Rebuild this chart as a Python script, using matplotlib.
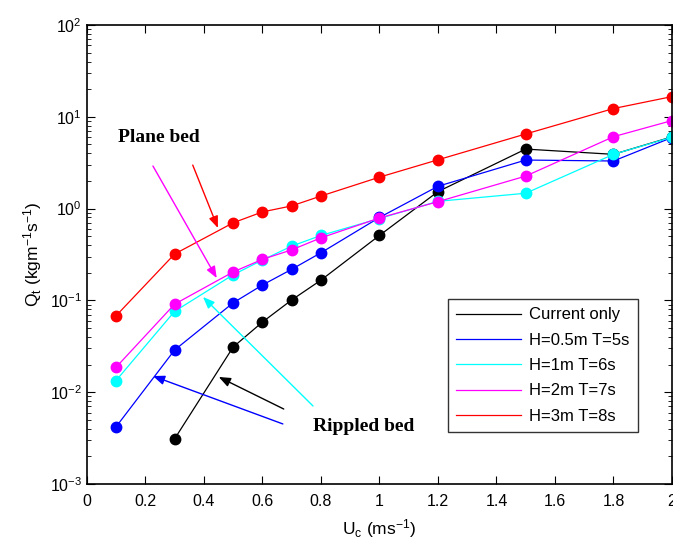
import numpy as np
import matplotlib
matplotlib.use("Agg")
import matplotlib.pyplot as plt

plt.rcParams['font.family'] = ['Liberation Sans', 'DejaVu Sans']
plt.rcParams['mathtext.fontset'] = 'custom'
plt.rcParams['mathtext.rm'] = 'Liberation Sans'
plt.rcParams['mathtext.it'] = 'Liberation Sans'

# current velocity (m/s)
uc = [0.1, 0.3, 0.5, 0.6, 0.7, 0.8, 1.0, 1.2, 1.5, 1.8, 2.0]
uc_current = uc[1:]

# total transport (kg/m/s)
q_current = [0.0031, 0.031, 0.058, 0.101, 0.166, 0.51, 1.53, 4.45, 3.9, 6.05]
q_h05 = [0.0042, 0.0288, 0.094, 0.147, 0.218, 0.33, 0.80, 1.75, 3.38, 3.3, 5.95]
q_h1 = [0.0134, 0.076, 0.19, 0.275, 0.39, 0.51, 0.78, 1.2, 1.47, 3.9, 6.0]
q_h2 = [0.0187, 0.091, 0.204, 0.28, 0.355, 0.48, 0.79, 1.19, 2.26, 6.07, 9.1]
q_h3 = [0.068, 0.32, 0.70, 0.92, 1.07, 1.37, 2.2, 3.4, 6.5, 12.3, 16.6]

labels = ['Current only', 'H=0.5m T=5s', 'H=1m T=6s', 'H=2m T=7s', 'H=3m T=8s']
colors = ['black', 'blue', 'cyan', 'magenta', 'red']

fig = plt.figure(figsize=(6.73, 5.4), dpi=100)
ax = fig.add_axes([0.129, 0.1037, 0.8695, 0.85])

series = [(uc_current, q_current), (uc, q_h05), (uc, q_h1), (uc, q_h2), (uc, q_h3)]
for (x, y), c, lab in zip(series, colors, labels):
    ax.plot(x, y, '-', color=c, lw=0.9, label=lab)
    ax.plot(x, y, 'o', color=c, ms=7.5, clip_on=False)

ax.set_yscale('log')
ax.set_xlim(0, 2)
ax.set_ylim(1e-3, 1e2)
ax.set_xticks(np.arange(0, 2.01, 0.2))
ax.set_xticklabels(['0', '0.2', '0.4', '0.6', '0.8', '1', '1.2', '1.4', '1.6', '1.8', '2'])
ax.tick_params(which='both', direction='in', top=True, right=True, labelsize=11.5)
ax.tick_params(which='major', length=6, width=0.8)
ax.tick_params(which='minor', length=3, width=0.6)
ax.tick_params(axis='x', pad=7)
for s in ax.spines.values():
    s.set_linewidth(1.2)

ax.set_xlabel('U$_c$ (ms$^{-1}$)', fontsize=12.5, labelpad=6)
ax.set_ylabel('Q$_t$ (kgm$^{-1}$s$^{-1}$)', fontsize=12.5, labelpad=4)

leg = ax.legend(loc='lower right', bbox_to_anchor=(0.942, 0.113), fontsize=12,
                frameon=True, fancybox=False, edgecolor='black',
                handlelength=3.9, handletextpad=0.5, labelspacing=0.62,
                borderpad=0.5, borderaxespad=0)
leg.get_frame().set_linewidth(1.0)

serif = dict(family=['Liberation Serif', 'DejaVu Serif'], fontweight='bold', fontsize=14)
ax.text(0.106, 6.0, 'Plane bed', va='center', ha='left', **serif)
ax.text(0.773, 0.0042, 'Rippled bed', va='center', ha='left', **serif)

arrows = [
    ((0.362, 2.98), (0.448, 0.615), 'red'),
    ((0.226, 2.91), (0.444, 0.175), 'magenta'),
    ((0.673, 0.00656), (0.451, 0.01465), 'black'),
    ((0.670, 0.00451), (0.226, 0.015), 'blue'),
    ((0.773, 0.00708), (0.397, 0.109), 'cyan'),
]
for start, end, c in arrows:
    ax.annotate('', xy=end, xytext=start,
                arrowprops=dict(arrowstyle='-|>,head_length=0.7,head_width=0.28',
                                color=c, lw=1.0, shrinkA=0, shrinkB=0))

fig.savefig('out.png', dpi=100)
